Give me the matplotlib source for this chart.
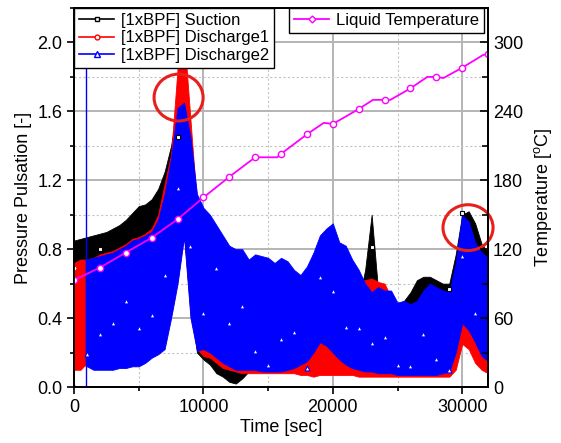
import numpy as np
import matplotlib
matplotlib.use("Agg")
import matplotlib.pyplot as plt
from matplotlib.lines import Line2D
from matplotlib.patches import Ellipse
from matplotlib.ticker import MultipleLocator

plt.rcParams['font.family'] = ['Liberation Sans', 'DejaVu Sans']
plt.rcParams['mathtext.fontset'] = 'custom'
plt.rcParams['mathtext.rm'] = 'Liberation Sans'

# time grid of the envelopes (sec)
t_grid = np.arange(0, 32001, 500)

# [1xBPF] Suction - lower / upper envelope of the pulsation trace
suction_lo = [0.55, 0.50, 0.50, 0.50, 0.50, 0.50, 0.50, 0.50, 0.50, 0.50,
              0.50, 0.50, 0.50, 0.50, 0.50, 0.50, 0.65, 0.90, 0.50, 0.20,
              0.16, 0.13, 0.08, 0.06, 0.03, 0.02, 0.05, 0.09, 0.10, 0.10,
              0.10, 0.10, 0.10, 0.10, 0.10, 0.10, 0.10, 0.10, 0.10, 0.10,
              0.10, 0.10, 0.10, 0.10, 0.10, 0.10, 0.10, 0.10, 0.10, 0.10,
              0.10, 0.10, 0.10, 0.10, 0.10, 0.10, 0.10, 0.10, 0.10, 0.30,
              0.35, 0.35, 0.35, 0.35, 0.35]
suction_hi = [0.85, 0.86, 0.87, 0.88, 0.89, 0.90, 0.92, 0.94, 0.97, 1.01,
              1.05, 1.06, 1.09, 1.15, 1.25, 1.40, 1.64, 1.62, 1.30, 0.90,
              0.60, 0.45, 0.40, 0.35, 0.35, 0.35, 0.35, 0.40, 0.40, 0.40,
              0.40, 0.40, 0.40, 0.40, 0.40, 0.40, 0.40, 0.40, 0.40, 0.40,
              0.40, 0.40, 0.40, 0.40, 0.50, 0.68, 1.00, 0.56, 0.48, 0.48,
              0.48, 0.50, 0.55, 0.62, 0.64, 0.64, 0.62, 0.60, 0.60, 0.77,
              1.00, 1.02, 0.95, 0.83, 0.78]

# [1xBPF] Discharge1
dis1_lo = [0.10, 0.10, 0.14, 0.15, 0.15, 0.15, 0.15, 0.15, 0.15, 0.15,
           0.15, 0.16, 0.19, 0.21, 0.24, 0.42, 0.62, 0.89, 0.42, 0.22,
           0.18, 0.17, 0.14, 0.11, 0.10, 0.09, 0.08, 0.08, 0.08, 0.08,
           0.08, 0.08, 0.08, 0.08, 0.08, 0.07, 0.07, 0.06, 0.07, 0.07,
           0.07, 0.07, 0.07, 0.07, 0.06, 0.06, 0.06, 0.06, 0.06, 0.06,
           0.06, 0.06, 0.06, 0.06, 0.06, 0.06, 0.06, 0.06, 0.06, 0.10,
           0.25, 0.22, 0.14, 0.10, 0.08]
dis1_hi = [0.72, 0.74, 0.74, 0.75, 0.77, 0.78, 0.79, 0.81, 0.83, 0.86,
           0.87, 0.89, 0.92, 1.00, 1.18, 1.35, 1.85, 2.05, 1.55, 1.05,
           0.70, 0.80, 0.82, 0.80, 0.76, 0.74, 0.74, 0.68, 0.70, 0.70,
           0.69, 0.66, 0.69, 0.67, 0.62, 0.60, 0.64, 0.70, 0.80, 0.84,
           0.86, 0.78, 0.74, 0.68, 0.62, 0.62, 0.63, 0.61, 0.60, 0.52,
           0.45, 0.46, 0.44, 0.46, 0.50, 0.54, 0.52, 0.50, 0.50, 0.60,
           0.85, 0.82, 0.75, 0.70, 0.68]

# [1xBPF] Discharge2: zero until the sensor starts, then the band
dis2_start_t = [0, 900, 900]
dis2_start_v = [0.0, 0.0, 2.3]
dis2_t = np.r_[900, np.arange(1000, 32001, 500)]
dis2_lo = [0.12,
           0.12, 0.10, 0.10, 0.10, 0.10, 0.11, 0.11, 0.12, 0.12, 0.14,
           0.17, 0.19, 0.22, 0.40, 0.60, 0.87, 0.40, 0.21,
           0.22, 0.20, 0.17, 0.14, 0.12, 0.10, 0.10, 0.10, 0.10, 0.09,
           0.09, 0.09, 0.09, 0.10, 0.11, 0.13, 0.15, 0.20, 0.26, 0.24,
           0.20, 0.16, 0.13, 0.11, 0.10, 0.09, 0.09, 0.08, 0.08, 0.08,
           0.07, 0.07, 0.07, 0.07, 0.07, 0.07, 0.07, 0.08, 0.09, 0.20,
           0.37, 0.33, 0.26, 0.18, 0.15]
dis2_hi = [0.74,
           0.74, 0.75, 0.76, 0.77, 0.78, 0.80, 0.82, 0.85, 0.86, 0.88,
           0.90, 0.97, 1.12, 1.33, 1.62, 1.65, 1.45, 1.12,
           1.04, 1.00, 0.94, 0.88, 0.82, 0.80, 0.80, 0.74, 0.77, 0.76,
           0.75, 0.72, 0.75, 0.73, 0.68, 0.65, 0.70, 0.78, 0.88, 0.92,
           0.95, 0.84, 0.82, 0.74, 0.68, 0.60, 0.55, 0.58, 0.56, 0.56,
           0.49, 0.50, 0.48, 0.50, 0.56, 0.60, 0.58, 0.56, 0.55, 0.72,
           1.00, 0.96, 0.84, 0.78, 0.75]

# visible symbol points
suction_mk_t = [2000, 8000, 23000, 29000, 30000]
suction_mk_v = [0.80, 1.45, 0.815, 0.57, 1.01]
dis1_mk_t = [0]
dis1_mk_v = [0.69]
dis2_mk_t = list(range(0, 31001, 1000))
dis2_mk_v = [0.0, 0.19, 0.31, 0.37, 0.50, 0.34, 0.42, 0.65, 1.155, 0.82,
             0.43, 0.69, 0.37, 0.47, 0.21, 0.13, 0.28, 0.32, 0.11, 0.64,
             0.555, 0.35, 0.34, 0.255, 0.29, 0.13, 0.12, 0.31, 0.16, 0.10,
             0.76, 0.43]

# liquid temperature (deg C)
temp_t = [0, 2000, 4000, 6000, 8000, 10000, 12000, 14000, 15700, 16000,
          18000, 19300, 20000, 22000, 23100, 24000, 24450, 26000, 27300,
          28000, 28550, 30000, 31600, 32000]
temp_v = [93, 104, 117, 130, 146, 165, 183, 200, 200, 203,
          220, 230, 229, 242, 250, 250, 250, 260, 270,
          270, 269, 278, 289, 290]

# highlighted regions (center time, center value, width, height)
circles = [(8080, 1.68, 3790, 0.272), (30450, 0.925, 3870, 0.266)]

fig = plt.figure(figsize=(5.61, 4.43), dpi=100)
ax = fig.add_axes([0.132, 0.1264, 0.738, 0.8556])

ax.fill_between(t_grid, suction_lo, suction_hi, color='black', lw=0.6, zorder=2)
ax.fill_between(t_grid, dis1_lo, dis1_hi, color='red', lw=0.6, zorder=3)
ax.plot(dis2_start_t, dis2_start_v, color='blue', lw=1.0, zorder=4)
ax.fill_between(dis2_t, dis2_lo, dis2_hi, color='blue', lw=0.6, zorder=4)

mk = dict(ls='none', mfc='white', ms=3.5, mew=0.8, zorder=6)
ax.plot(suction_mk_t, suction_mk_v, marker='s', mec='black', **mk)
ax.plot(dis1_mk_t, dis1_mk_v, marker='o', mec='red', **mk)
ax.plot(dis2_mk_t, dis2_mk_v, marker='^', mec='blue', **mk)

for cx, cy, w, h in circles:
    ax.add_patch(Ellipse((cx, cy), w, h, fill=False, ec='#e8201c', lw=2.2,
                         zorder=8, clip_on=False))

ax.set_xlim(0, 32000)
ax.set_ylim(0, 2.2)
ax.xaxis.set_major_locator(MultipleLocator(10000))
ax.xaxis.set_minor_locator(MultipleLocator(5000))
ax.yaxis.set_major_locator(MultipleLocator(0.4))
ax.yaxis.set_minor_locator(MultipleLocator(0.2))
ax.yaxis.set_major_formatter(matplotlib.ticker.FormatStrFormatter('%.1f'))
ax.grid(which='major', color='#b4b4b4', lw=1.4, ls='-', zorder=0)
ax.grid(which='minor', color='#c4c4c4', lw=0.8, ls=(0, (2, 2)), zorder=0)
ax.set_axisbelow(True)
ax.tick_params(which='both', direction='out', labelsize=13, width=1.2)
ax.tick_params(which='major', length=5)
ax.tick_params(which='minor', length=3)
ax.tick_params(axis='y', which='both', right=False)
for s in ax.spines.values():
    s.set_linewidth(1.3)
ax.set_xlabel('Time [sec]', fontsize=13, labelpad=2)
ax.set_ylabel('Pressure Pulsation [-]', fontsize=13, labelpad=4)

ax2 = ax.twinx()
ax2.plot(temp_t, temp_v, color='#ff00ff', lw=1.3, marker='o', ms=4.5,
         mfc='white', mec='#ff00ff', mew=1.0,
         markevery=[i for i, t in enumerate(temp_t) if t % 2000 == 0])
ax2.set_ylim(0, 330)
ax2.yaxis.set_major_locator(MultipleLocator(60))
ax2.yaxis.set_minor_locator(MultipleLocator(30))
ax2.tick_params(which='both', direction='in', labelsize=13, width=1.2)
ax2.tick_params(which='major', length=6)
ax2.tick_params(which='minor', length=4)
ax2.set_ylabel('Temperature [$^\\mathrm{o}$C]', fontsize=13, labelpad=6)
for s in ax2.spines.values():
    s.set_linewidth(1.3)

h1 = [Line2D([], [], color='black', marker='s', ms=3.5, mfc='white', lw=1.2),
      Line2D([], [], color='red', marker='o', ms=3.5, mfc='white', lw=1.2),
      Line2D([], [], color='blue', marker='^', ms=4, mfc='white', lw=1.2)]
leg1 = ax2.legend(h1, ['[1xBPF] Suction', '[1xBPF] Discharge1', '[1xBPF] Discharge2'],
                  loc='upper left', borderaxespad=0, fontsize=12, fancybox=False,
                  edgecolor='black', framealpha=1, handlelength=2.1,
                  handletextpad=0.4, labelspacing=0.15, borderpad=0.3)
leg1.get_frame().set_linewidth(1.0)
ax2.add_artist(leg1)
h2 = [Line2D([], [], color='#ff00ff', marker='D', ms=3.5, mfc='white', lw=1.3)]
leg2 = ax2.legend(h2, ['Liquid Temperature'], loc='upper right',
                  bbox_to_anchor=(0.99, 1.0), borderaxespad=0, fontsize=12,
                  fancybox=False, edgecolor='black', framealpha=1,
                  handlelength=2.1, handletextpad=0.4, borderpad=0.3)
leg2.get_frame().set_linewidth(1.0)

fig.savefig('out.png', dpi=100)
